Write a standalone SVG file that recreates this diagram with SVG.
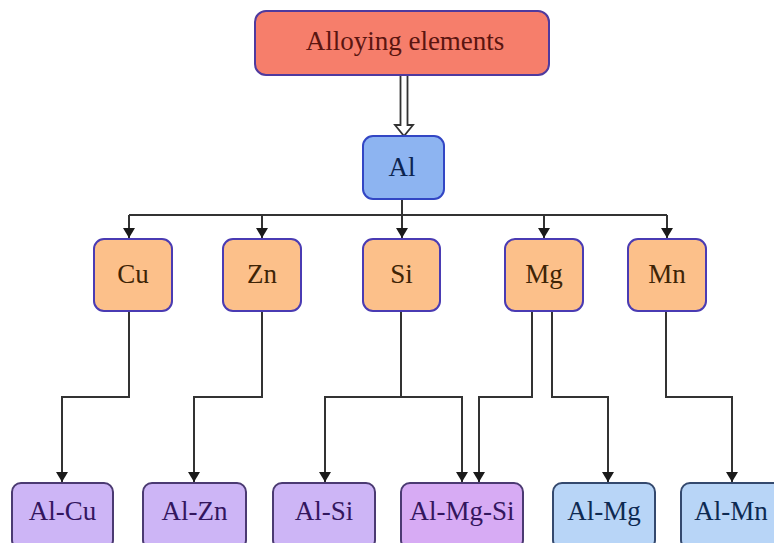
<svg xmlns="http://www.w3.org/2000/svg" width="774" height="543" viewBox="0 0 774 543" font-family="'Liberation Serif', 'DejaVu Serif', serif">
<style>
  text { font-family: 'Liberation Serif', 'Times New Roman', 'DejaVu Serif', serif; font-size: 27px; text-anchor: middle; }
  .top { fill: #f67e6b; stroke: #4f3a9e; stroke-width: 2; }
  .al { fill: #8db4f1; stroke: #3246c4; stroke-width: 2; }
  .el { fill: #fcc08a; stroke: #4a3bb3; stroke-width: 2; }
  .pur { fill: #cdb5f6; stroke: #4b3a72; stroke-width: 2; }
  .mgsi { fill: #d7abf4; stroke: #4b3a72; stroke-width: 2; }
  .blu { fill: #b8d5f7; stroke: #34496e; stroke-width: 2; }
  .tTop { fill: #5a1510; }
  .tAl { fill: #0c2450; }
  .tEl { fill: #3e2406; }
  .tPur { fill: #33165e; }
  .tBlu { fill: #0e2a52; }
  .c { fill: none; stroke: #333333; stroke-width: 2; marker-end: url(#ah); }
</style>
<defs>
  <marker id="ah" markerUnits="userSpaceOnUse" markerWidth="10" markerHeight="12" refX="10" refY="6" orient="auto">
    <path d="M0,0 L10,6 L0,12 z" fill="#1a1a1a"/>
  </marker>
</defs>
<rect width="774" height="543" fill="#ffffff"/>

<g id="connectors">
  <path d="M400.5,74 V125 H395 L404,136 L413,125 H407.5 V74" fill="#ffffff" stroke="#333333" stroke-width="1.8"/>
  <path d="M402,199 V215" fill="none" stroke="#333333" stroke-width="2"/>
  <path d="M129,215 H667" fill="none" stroke="#333333" stroke-width="2"/>
  <path class="c" d="M129,215 V238"/>
  <path class="c" d="M262,215 V238"/>
  <path class="c" d="M402,215 V238"/>
  <path class="c" d="M544,215 V238"/>
  <path class="c" d="M667,215 V238"/>
  <path class="c" d="M129,311 V397 H62 V482"/>
  <path class="c" d="M262,311 V397 H194 V482"/>
  <path class="c" d="M401,311 V397 H325 V482"/>
  <path class="c" d="M401,397 H462 V482"/>
  <path class="c" d="M532,311 V397 H479 V482"/>
  <path class="c" d="M552,311 V397 H608 V482"/>
  <path class="c" d="M666,311 V397 H732 V482"/>
</g>

<g id="alloying-elements">
  <rect class="top" x="255" y="11" width="294" height="64" rx="11"/>
  <text class="tTop" x="405" y="50">Alloying elements</text>
</g>
<g id="al">
  <rect class="al" x="363" y="136" width="81" height="63" rx="10"/>
  <text class="tAl" x="402" y="176">Al</text>
</g>
<g id="cu">
  <rect class="el" x="94" y="239" width="78" height="72" rx="10"/>
  <text class="tEl" x="133" y="283">Cu</text>
</g>
<g id="zn">
  <rect class="el" x="223" y="239" width="78" height="72" rx="10"/>
  <text class="tEl" x="262" y="283">Zn</text>
</g>
<g id="si">
  <rect class="el" x="363" y="239" width="77" height="72" rx="10"/>
  <text class="tEl" x="401.5" y="283">Si</text>
</g>
<g id="mg">
  <rect class="el" x="505" y="239" width="78" height="72" rx="10"/>
  <text class="tEl" x="544" y="283">Mg</text>
</g>
<g id="mn">
  <rect class="el" x="628" y="239" width="78" height="72" rx="10"/>
  <text class="tEl" x="667" y="283">Mn</text>
</g>
<g id="al-cu">
  <rect class="pur" x="12" y="483" width="101" height="66" rx="9"/>
  <text class="tPur" x="62.5" y="520">Al-Cu</text>
</g>
<g id="al-zn">
  <rect class="pur" x="143" y="483" width="103" height="66" rx="9"/>
  <text class="tPur" x="194.5" y="520">Al-Zn</text>
</g>
<g id="al-si">
  <rect class="pur" x="273" y="483" width="102" height="66" rx="9"/>
  <text class="tPur" x="324" y="520">Al-Si</text>
</g>
<g id="al-mg-si">
  <rect class="mgsi" x="401" y="483" width="122" height="66" rx="9"/>
  <text class="tPur" x="462" y="520">Al-Mg-Si</text>
</g>
<g id="al-mg">
  <rect class="blu" x="553" y="483" width="102" height="66" rx="9"/>
  <text class="tBlu" x="604" y="520">Al-Mg</text>
</g>
<g id="al-mn">
  <rect class="blu" x="681" y="483" width="102" height="66" rx="9"/>
  <text class="tBlu" x="731" y="520">Al-Mn</text>
</g>
</svg>
